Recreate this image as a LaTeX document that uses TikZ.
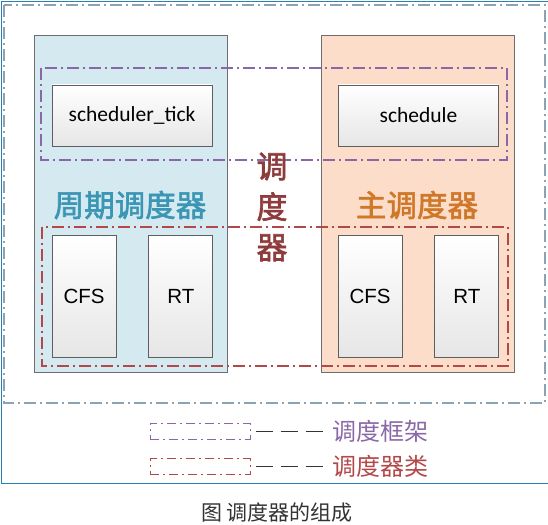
\documentclass[tikz,border=0pt]{standalone}
\usepackage{fontspec}
\setsansfont{Carlito}
\newfontfamily\cjk[AutoFakeBold=2]{Noto Sans CJK SC}
\newfontfamily\arialf{Liberation Sans}
\usepackage{tikz}
\usetikzlibrary{shapes,arrows,positioning}

\definecolor{blueback}{HTML}{D5E9F1}
\definecolor{orangeback}{HTML}{FBDDC9}
\definecolor{panelgray}{HTML}{6E6E6E}
\definecolor{boxgray}{HTML}{5E5E5E}
\definecolor{boxshade}{HTML}{E6E6E6}
\definecolor{outerc}{HTML}{8AA3B5}
\definecolor{purpc}{HTML}{8A68A8}
\definecolor{redc}{HTML}{B24848}
\definecolor{tealc}{HTML}{3A96B4}
\definecolor{orangec}{HTML}{D0782A}
\definecolor{brownc}{HTML}{8E3B3B}
\definecolor{framec}{HTML}{2A7FB8}
\definecolor{captc}{HTML}{333333}

\begin{document}
\begin{tikzpicture}[x=1pt,y=-1pt,node distance=32pt,
	panel node/.style={draw=panelgray, line width=1pt, inner sep=0pt, minimum width=193pt, minimum height=336pt},
	fn node/.style={draw=boxgray, line width=.8pt, top color=white, bottom color=boxshade, minimum width=160pt, minimum height=61pt, font=\sffamily\fontsize{21.5}{25}\selectfont},
	cls node/.style={draw=boxgray, line width=.8pt, top color=white, bottom color=boxshade, minimum width=64pt, minimum height=122pt, font=\arialf\fontsize{20.5}{24}\selectfont},
	key node/.style={line width=1pt, dash pattern=on 9pt off 4pt on 2pt off 4pt, minimum width=100pt, minimum height=16pt},
	dashdot/.style={line width=1.1pt, dash pattern=on 12pt off 4pt on 2pt off 4pt}]
			\useasboundingbox (0,0) rectangle (548,524);
			
			% outer frame
			\draw[framec, line width=.8pt] (548,1) -- (1,1) -- (1,483) -- (548,483);
			\draw[outerc, dashdot] (4,5) rectangle (545,403);
			
			\node[panel node, fill=blueback] (1) at (130.5,204) {};
			\node[panel node, fill=orangeback] (2) at (417.5,204) {};
			
			\draw[purpc, dashdot] (41,68) rectangle (507,160);
			\draw[redc, dashdot] (42,227) rectangle (508,366);
			
			\node[fn node] (3) at (132,115.5) {scheduler\_tick};
			\node[fn node] (4) at (418.5,115.5) {schedule};
			
			\node[cls node] (5) at (84,296) {CFS};
			\node[cls node] (6) [right=of 5]{RT};
			\node[cls node] (7) at (370,296) {CFS};
			\node[cls node] (8) [right=of 7]{RT};
			
			\node[text=tealc, font=\cjk\bfseries\fontsize{30.5}{32}\selectfont] (9) at (130,205) {周期调度器};
			\node[text=orangec, font=\cjk\bfseries\fontsize{30.5}{32}\selectfont] (10) at (417,205) {主调度器};
			\node[text=brownc, align=center, font=\cjk\bfseries\fontsize{31}{40.5}\selectfont] (11) at (272,207) {调\\度\\器};
			
			% legend
			\node[key node, draw=purpc] (12) at (200,431) {};
			\node[key node, draw=redc] (13) at (200,466.5) {};
			\node[inner sep=0pt, text=purpc, font=\cjk\fontsize{24}{26}\selectfont] (14) [right=82pt of 12]{调度框架};
			\node[inner sep=0pt, text=redc, font=\cjk\fontsize{24}{26}\selectfont] (15) [right=82pt of 13]{调度器类};
			\path[draw=captc, line width=.9pt, dash pattern=on 17pt off 8pt, shorten <=5pt, shorten >=9pt]
			(12) edge (14)
			(13) edge (15);
			
			\node[text=captc, font=\cjk\fontsize{21}{24}\selectfont] (16) at (277,513) {图 调度器的组成};
			
\end{tikzpicture}
\end{document}
